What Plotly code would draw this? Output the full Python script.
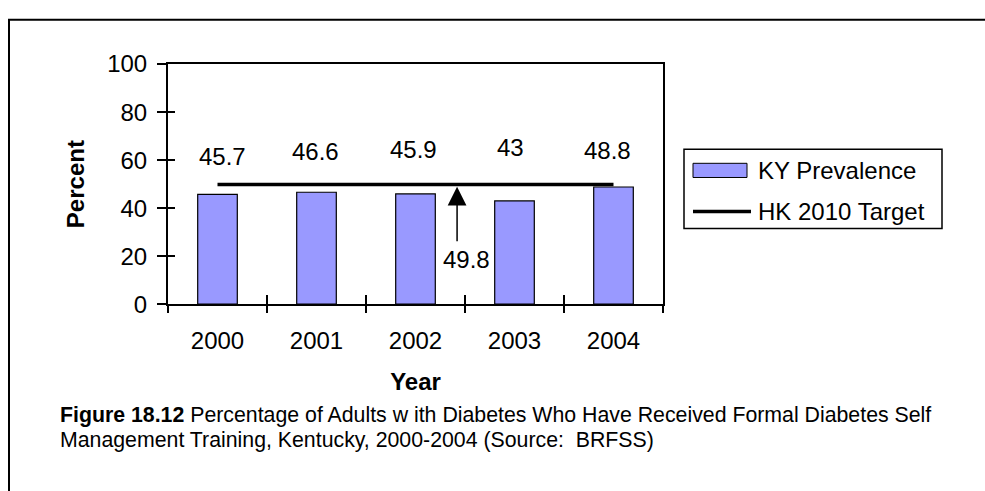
import plotly.graph_objects as go

# ---- data ----
years = ["2000", "2001", "2002", "2003", "2004"]
ky_prevalence = [45.7, 46.6, 45.9, 43.0, 48.8]
hk_target = 49.8
y_ticks = [0, 20, 40, 60, 80, 100]
caption_lines = [
    "<b>Figure 18.12</b> Percentage of Adults w ith Diabetes Who Have "
    "Received Formal Diabetes Self",
    "Management Training, Kentucky, 2000-2004 (Source:&nbsp; BRFSS)",
]

# ---- style / layout helpers ----
W, H = 985, 491
FONT = "Arial, 'Liberation Sans', sans-serif"
def px(x):
    return x / W
def py(y):
    return 1 - y / H

plot_l, plot_r, plot_t, plot_b = 168, 663, 53, 307
label_y = [61.5, 63.4, 64.4, 65.1, 64.2]      # label heights (data units)
label_xshift = [5, -1, -2, -4, -6]
caption_y = [424, 451]

fig = go.Figure()
fig.add_trace(go.Bar(
    x=years, y=ky_prevalence, name="KY Prevalence",
    marker=dict(color="#9999FF", line=dict(color="black", width=1.2)),
    width=0.4, showlegend=False, xaxis="x", yaxis="y",
))
fig.add_trace(go.Scatter(
    x=years, y=[hk_target] * len(years), name="HK 2010 Target",
    mode="lines", line=dict(color="black", width=3.5),
    showlegend=False, xaxis="x2", yaxis="y2",
))

xdom = [px(plot_l), px(plot_r)]
ydom = [py(plot_b), py(plot_t)]
axis_common = dict(showgrid=False, zeroline=False, tickcolor="black",
                   tickwidth=1.5)

fig.update_layout(
    width=W, height=H, autosize=False,
    margin=dict(l=0, r=0, t=0, b=0),
    paper_bgcolor="white", plot_bgcolor="white",
    font=dict(family=FONT, size=24, color="black"),
    xaxis=dict(domain=xdom, type="category", categoryorder="array",
               categoryarray=years, range=[-0.5, len(years) - 0.5],
               tickson="boundaries", ticks="outside", ticklen=7,
               showline=True, mirror=True, anchor="y",
               linecolor="black", linewidth=2,
               ticklabelstandoff=14,
               title=dict(text="<b>Year</b>", standoff=20,
                          font=dict(size=24)),
               **axis_common),
    yaxis=dict(domain=ydom, range=[0, 100], tickvals=y_ticks,
               ticks="outside", ticklen=9, showline=True, mirror=True,
               linecolor="black", linewidth=2,
               anchor="x", ticklabelstandoff=5,
               title=dict(text="<b>Percent</b>", standoff=16,
                          font=dict(size=24)),
               **axis_common),
    xaxis2=dict(domain=xdom, type="category", categoryorder="array",
                categoryarray=years, range=[-0.5, len(years) - 0.5],
                tickson="boundaries", ticks="inside", ticklen=9,
                showticklabels=False, overlaying="x", anchor="y2",
                showline=False, **axis_common),
    yaxis2=dict(domain=ydom, range=[0, 100], tickvals=y_ticks,
                ticks="inside", ticklen=7, showticklabels=False,
                overlaying="y", anchor="x2", showline=False,
                **axis_common),
)

annotations = []
# data labels
for i, v in enumerate(ky_prevalence):
    annotations.append(dict(x=i, y=label_y[i], xref="x", yref="y",
                            text=f"{v:g}", showarrow=False,
                            xshift=label_xshift[i],
                            font=dict(size=24)))
# target arrow
annotations.append(dict(x=2.42, y=48.9, xref="x", yref="y", text="",
                        showarrow=True, arrowhead=2, arrowsize=2.5,
                        arrowwidth=1.5, arrowcolor="black",
                        ax=0, ay=56))
annotations.append(dict(x=2.42, y=hk_target, xref="x", yref="y",
                        text=f"{hk_target:g}", showarrow=False,
                        xshift=9, yshift=-75, font=dict(size=24)))
# legend (manual)
annotations.append(dict(x=px(756), y=py(166), xref="paper", yref="paper",
                        text="KY Prevalence", showarrow=False,
                        xanchor="left", yanchor="middle", font=dict(size=24)))
annotations.append(dict(x=px(756), y=py(209), xref="paper", yref="paper",
                        text="HK 2010 Target", showarrow=False,
                        xanchor="left", yanchor="middle", font=dict(size=24)))
# caption
for line, cy in zip(caption_lines, caption_y):
    annotations.append(dict(
        x=px(58), y=py(cy), xref="paper", yref="paper", xanchor="left",
        yanchor="middle", align="left", showarrow=False,
        text=line, font=dict(size=21.3)))
fig.update_layout(annotations=annotations)

shapes = [
    # outer frame
    dict(type="rect", xref="paper", yref="paper", x0=px(9), y0=py(6),
         x1=1.05, y1=-0.05, line=dict(color="black", width=2)),
    # legend box
    dict(type="rect", xref="paper", yref="paper", x0=px(684), y0=py(143),
         x1=px(942), y1=py(227), line=dict(color="black", width=1.5),
         fillcolor="white", layer="below"),
    dict(type="rect", xref="paper", yref="paper", x0=px(693), y0=py(158),
         x1=px(747), y1=py(173), line=dict(color="black", width=1),
         fillcolor="#9999FF"),
    dict(type="line", xref="paper", yref="paper", x0=px(693), y0=py(209),
         x1=px(751), y1=py(209), line=dict(color="black", width=3.5)),
]
fig.update_layout(shapes=shapes)

fig.write_html("out.html", config={"displayModeBar": False},
               post_script="document.body.style.margin='0';"
                           "document.body.style.overflow='hidden';")
